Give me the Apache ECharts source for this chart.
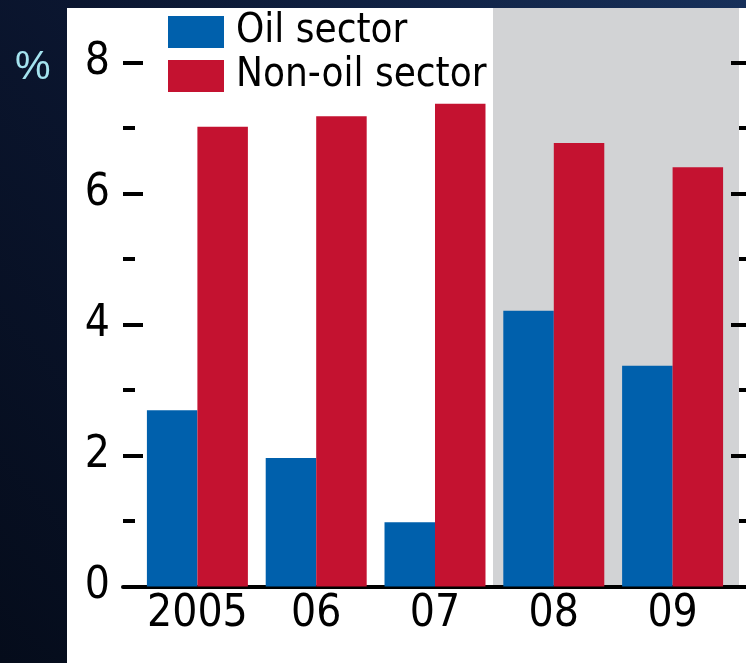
<!DOCTYPE html>
<html>
<head>
<meta charset="utf-8">
<script src="https://cdn.jsdelivr.net/npm/echarts@6/dist/echarts.min.js"></script>
<style>
  html, body { margin: 0; padding: 0; }
  #chart { width: 746px; height: 663px; }
</style>
</head>
<body>
<div id="chart"></div>
<script>
var years = ['2005', '06', '07', '08', '09'];
var oilSector = [2.69, 1.96, 0.98, 4.21, 3.37];
var nonOilSector = [7.02, 7.18, 7.37, 6.77, 6.40];
var yTicks = [0, 2, 4, 6, 8];

var narrow = "'Liberation Sans Narrow', 'DejaVu Sans Condensed', sans-serif";
var myChart = echarts.init(document.getElementById('chart'));

var option = {
    backgroundColor: {
        type: 'linear', x: 0, y: 1, x2: 1, y2: 0,
        colorStops: [
            {offset: 0, color: '#050c1b'},
            {offset: 0.5, color: '#0b1630'},
            {offset: 1, color: '#17305a'}
        ]
    },
    animation: false,
    graphic: [
        // white panel
        {type: 'rect', z: -10, shape: {x: 67, y: 8, width: 679, height: 655}, style: {fill: '#ffffff'}},
        // forecast shade
        {type: 'rect', z: -9, shape: {x: 493, y: 8, width: 246, height: 579}, style: {fill: '#d2d3d5'}},
        {type: 'text', left: 15, top: 48, style: {text: '%', fill: '#a4e3ef', font: '40px "Liberation Sans", sans-serif'}}
    ],
    legend: {
        orient: 'vertical',
        left: 168,
        top: 12,
        padding: 0,
        itemWidth: 56,
        itemHeight: 32,
        itemGap: 4,
        selectedMode: false,
        icon: 'rect',
        textStyle: {fontFamily: narrow, fontSize: 40, color: '#000', padding: [0, 0, 0, 7]},
        data: ['Oil sector', 'Non-oil sector']
    },
    grid: [
        {left: 138, right: 14, top: 62.5, bottom: 76.5},
        {left: 123, right: 0, top: 62.5, bottom: 76.5}
    ],
    xAxis: [
        {
            type: 'category', gridIndex: 0, data: years,
            axisLine: {show: false}, axisTick: {show: false},
            axisLabel: {interval: 0, fontFamily: narrow, fontSize: 44, color: '#000', margin: 6}
        },
        {
            type: 'value', gridIndex: 1, min: 0, max: 1,
            axisLine: {show: true, lineStyle: {color: '#000', width: 4}},
            axisTick: {show: false}, axisLabel: {show: false}, splitLine: {show: false}
        }
    ],
    yAxis: [
        {type: 'value', gridIndex: 0, min: 0, max: 8, interval: 2, show: false},
        {
            type: 'value', gridIndex: 1, position: 'left', min: 0, max: 8, interval: 2,
            axisLine: {show: false},
            axisTick: {show: true, inside: true, length: 20, lineStyle: {color: '#000', width: 4}},
            minorTick: {show: true, splitNumber: 2, length: 12, lineStyle: {color: '#000', width: 4}},
            axisLabel: {
                fontFamily: narrow, fontSize: 44, color: '#000', margin: 13,
                formatter: function (v) { return yTicks.indexOf(v) >= 0 ? String(v) : ''; }
            },
            splitLine: {show: false}
        },
        {
            type: 'value', gridIndex: 1, position: 'right', min: 0, max: 8, interval: 2,
            axisLine: {show: false},
            axisTick: {show: true, inside: true, length: 15, lineStyle: {color: '#000', width: 4}},
            minorTick: {show: true, splitNumber: 2, length: 7, lineStyle: {color: '#000', width: 4}},
            axisLabel: {show: false},
            splitLine: {show: false}
        }
    ],
    series: [
        {
            name: 'Oil sector', type: 'bar', xAxisIndex: 0, yAxisIndex: 0,
            data: oilSector, barGap: '0%', barCategoryGap: '15%',
            itemStyle: {color: '#0060ac'}
        },
        {
            name: 'Non-oil sector', type: 'bar', xAxisIndex: 0, yAxisIndex: 0,
            data: nonOilSector, barGap: '0%', barCategoryGap: '15%',
            itemStyle: {color: '#c41230'}
        }
    ]
};
myChart.setOption(option);
</script>
</body>
</html>
